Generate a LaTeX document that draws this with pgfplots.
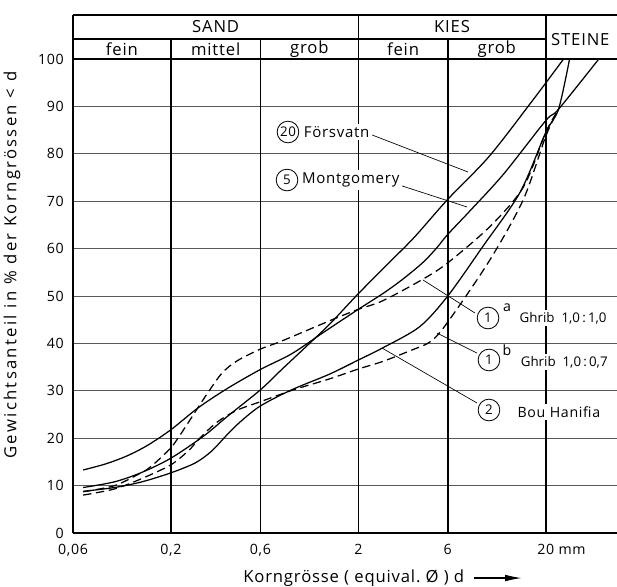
\documentclass[border=0pt]{standalone}
\usepackage{fontspec}
\setmainfont{Open Sans}[LetterSpace=5]
\newfontfamily\widefont{Open Sans}[LetterSpace=14]
\newfontfamily\plainfont{Open Sans}
\usepackage{pgfplots}
\pgfplotsset{compat=1.18}
\usetikzlibrary{arrows.meta}

\newcommand{\fs}[1]{\fontsize{#1}{#1}\selectfont}

\begin{document}
\begin{tikzpicture}
\begin{axis}[
  scale only axis, width=326.4pt, height=284.4pt,
  xmode=log, xmin=0.06, xmax=48, ymin=0, ymax=100,
  xtick={0.06,0.2,0.6,2,6,20},
  xticklabels={{0,06},{0,2},{0,6},2,6,{20\rlap{\ mm}}},
  ytick={0,10,...,100},
  yticklabels={0,10,20,30,40,50,60,70,80,90,100},
  minor x tick num=0, minor tick length=0pt,
  major tick length=0pt,
  axis lines=left, axis line style={draw=none},
  ymajorgrids, major y grid style={black!65, line width=0.45pt},
  clip=false,
  ticklabel style={font=\fs{8.5}},
  yticklabel style={xshift=-2pt},
  xticklabel style={yshift=-3pt},
]
% frame and header
\draw[line width=1pt] (axis cs:0.06,0) -- (axis cs:48,0);
\draw[line width=1pt] (axis cs:0.06,100) -- (axis cs:48,100);
\draw[line width=1pt] (axis cs:0.06,109.28) -- (axis cs:48,109.28);
\draw[line width=0.9pt] (axis cs:0.06,104.22) -- (axis cs:20,104.22);
\draw[line width=1pt] (axis cs:0.06,0) -- (axis cs:0.06,109.28);
\draw[line width=0.9pt] (axis cs:0.2,0) -- (axis cs:0.2,104.22);
\draw[line width=0.9pt] (axis cs:0.6,0) -- (axis cs:0.6,104.22);
\draw[line width=1pt] (axis cs:2,0) -- (axis cs:2,109.28);
\draw[line width=0.9pt] (axis cs:6,0) -- (axis cs:6,104.22);
\draw[line width=1pt] (axis cs:20,0) -- (axis cs:20,109.28);
\node[font=\fs{10}] at (axis cs:0.3464,106.75) {SAND};
\node[font=\fs{10}] at (axis cs:6.32,106.75) {KIES};
\node[font=\fs{10},anchor=west,inner sep=0pt] at (axis cs:21.3,104.0) {STEINE};
\node[font=\fs{10}] at (axis cs:0.1095,102.1) {fein};
\node[font=\fs{10}] at (axis cs:0.3464,102.1) {mittel};
\node[font=\fs{10}] at (axis cs:1.095,102.1) {grob};
\node[font=\fs{10}] at (axis cs:3.464,102.1) {fein};
\node[font=\fs{10}] at (axis cs:10.95,102.1) {grob};

% Montgomery (5)
\addplot[black, line width=0.75pt, smooth] table {
d p
0.068 13.3
0.09 14.6
0.117 16.3
0.15 18.5
0.2 21.8
0.279 26.4
0.4 30.5
0.6 34.5
0.88 37.8
1.3 42.3
2 47.2
2.7 50.5
3.44 53.5
4.4 57
5.2 60
6 63
7.9 68
11.9 75.7
20 87
23.4 89.4
38.4 100
};
% Foersvatn (20)
\addplot[black, line width=0.75pt, smooth] table {
d p
0.068 9.6
0.1 10.8
0.14 12.8
0.2 15.8
0.3 20.5
0.4 24.6
0.6 30.2
0.78 34.5
1.0 38.5
1.4 44
2 50.5
3 57.5
4 62.5
6 70.4
10 79.5
17.2 91.5
24.9 100
};
% Ghrib 1a
\addplot[black, line width=0.75pt, smooth, dash pattern=on 5pt off 2.8pt] table {
d p
0.068 8.7
0.1 10
0.137 12.6
0.156 14
0.2 18
0.24 22.5
0.29 27.5
0.37 33.5
0.45 36.3
0.6 38.8
0.78 40.5
1.45 45
2 47.2
2.7 49
4.4 53.5
6 57
10.1 64.7
15.2 73
20 84.5
23.4 89.4
};
% Bou Hanifia (2)
\addplot[black, line width=0.75pt, smooth] table {
d p
0.068 8.8
0.1 9.6
0.14 10.8
0.2 12.7
0.27 14.8
0.33 17.3
0.4 20.8
0.47 23.5
0.6 26.8
0.88 30.2
1.4 33.5
2 36.5
2.68 39
4.24 43.5
6 50
9.25 60.5
14.6 71.9
20 84.5
23.4 89.4
26.8 100
};
% Ghrib 1b
\addplot[black, line width=0.75pt, smooth, dash pattern=on 5pt off 2.8pt] table {
d p
0.068 8.0
0.1 9.3
0.14 11.5
0.2 14.4
0.25 17.5
0.28 19.7
0.35 23.3
0.45 25.9
0.6 27.7
0.9 30.2
1.4 32.5
2 34.6
2.7 36.2
3.8 38.5
4.86 40.4
6 44.5
10.1 57.7
15.2 70.4
20 83.7
23.4 89.4
};

% labels and leaders
\draw[line width=0.4pt] (rel axis cs:0.5404,0.8439) -- (rel axis cs:0.7261,0.7616);
\draw[line width=0.4pt] (rel axis cs:0.5882,0.7384) -- (rel axis cs:0.7243,0.6878);
\draw[line width=0.4pt] (rel axis cs:0.739,0.4641) -- (rel axis cs:0.6434,0.5338);
\draw[line width=0.4pt] (rel axis cs:0.7426,0.3797) -- (rel axis cs:0.6691,0.4219);
\draw[line width=0.4pt] (rel axis cs:0.7426,0.2743) -- (rel axis cs:0.568,0.3903);
\tikzset{cl/.style={circle, draw, line width=0.5pt, fill=white, minimum size=13pt, inner sep=0pt, font=\fs{8}},
  lt/.style={anchor=west, fill=white, inner sep=1.5pt}}
\node[cl] at (rel axis cs:0.3952,0.846) {20};
\node[lt, font=\fs{9}] at (rel axis cs:0.4190,0.846) {Försvatn};
\node[cl] at (rel axis cs:0.3934,0.7447) {5};
\node[lt, font=\fs{9}] at (rel axis cs:0.4160,0.7447) {Montgomery};
\node[cl] at (rel axis cs:0.7629,0.4536) {1};
\node[font=\fs{8.5}, inner sep=0pt] at (rel axis cs:0.7978,0.4747) {a};
\node[lt, font=\plainfont\fs{8}] at (rel axis cs:0.816,0.4536) {Ghrib\ \ 1,0\,:\,1,0};
\node[cl] at (rel axis cs:0.7647,0.365) {1};
\node[font=\fs{8.5}, inner sep=0pt] at (rel axis cs:0.7978,0.386) {b};
\node[lt, font=\plainfont\fs{8}] at (rel axis cs:0.818,0.3608) {Ghrib\ \ 1,0\,:\,0,7};
\node[cl] at (rel axis cs:0.7647,0.2595) {2};
\node[lt, font=\fs{8.5}] at (rel axis cs:0.812,0.2553) {Bou\ Hanifia};

% axis titles
\node[rotate=90, font=\widefont\fs{10}] at (rel axis cs:-0.112,0.565) {Gewichtsanteil\ in\ \%\ der\ Korngrössen\ <\ d};
\node[anchor=west, font=\fs{10}, inner sep=0pt] (xl) at (rel axis cs:0.3125,-0.095) {Korngrösse\ (\ equival.\ Ø\ )\ d};
\draw[line width=0.7pt, -{Latex[length=10pt,width=4pt]}] ([xshift=6pt]xl.east) -- (rel axis cs:0.825,-0.095);

\coordinate (bbsw) at (rel axis cs:-0.1342,-0.1118);
\coordinate (bbne) at (rel axis cs:1,1.1245);
\end{axis}
\pgfresetboundingbox
\path (bbsw) rectangle (bbne);
\end{tikzpicture}
\end{document}
